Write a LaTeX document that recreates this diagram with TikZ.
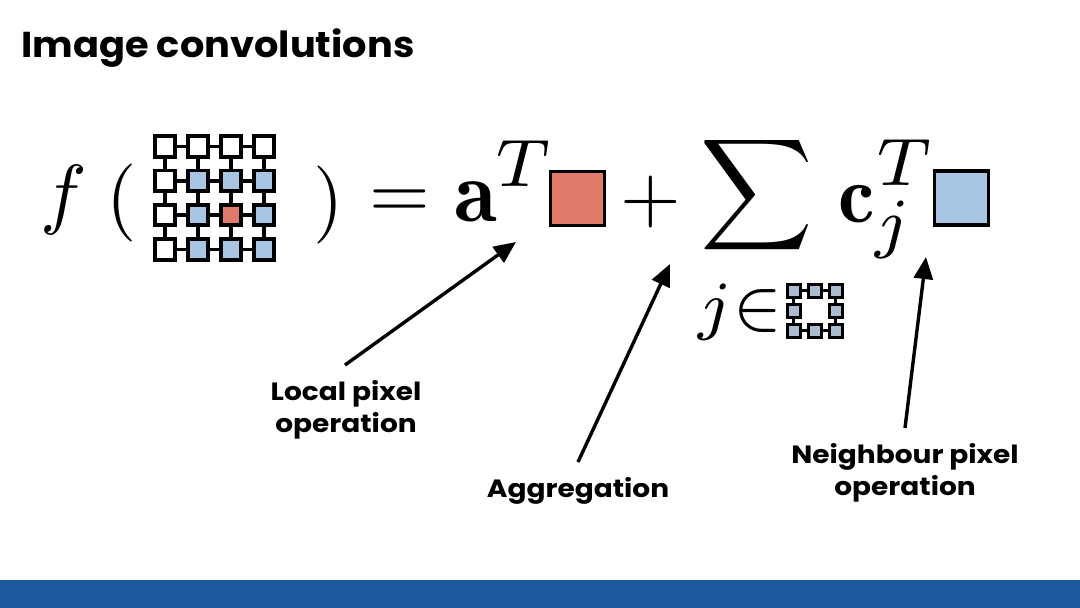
\documentclass[tikz,border=0pt]{standalone}
\usepackage{fontspec}
\usepackage{graphicx}
\usetikzlibrary{arrows.meta}
\newfontfamily\poptitle{Poppins}[FakeStretch=1.065]
\newfontfamily\poplbl{Poppins}[FakeStretch=1.12]
\definecolor{cellblue}{RGB}{168,198,228}
\definecolor{cellred}{RGB}{224,122,106}
\definecolor{smallblue}{RGB}{172,188,208}
\definecolor{barblue}{RGB}{27,90,157}
\tikzset{
  mth/.style={inner sep=0pt, outer sep=0pt, anchor=center},
  cell/.style={draw=black, line width=3.8pt, minimum width=20.5pt, minimum height=20.5pt, inner sep=0pt, outer sep=0pt},
  scell/.style={draw=black, line width=3pt, fill=smallblue, minimum width=13pt, minimum height=13pt, inner sep=0pt, outer sep=0pt},
  link/.style={line width=3.6pt},
  slink/.style={line width=3pt},
  lbl/.style={font=\poplbl\bfseries\fontsize{25}{32}\selectfont, align=center, inner sep=0pt},
  pointer/.style={line width=3.4pt, -{Triangle[length=22pt,width=19pt]}, shorten >=0pt},
  bigsq/.style={draw=black, line width=3.4pt, minimum width=53.5pt, minimum height=54pt, inner sep=0pt, outer sep=0pt}
}
\begin{document}
\begin{tikzpicture}[x=1pt,y=-1pt]
\useasboundingbox (0,0) rectangle (1080,608);
\fill[white] (0,0) rectangle (1080,608);
% title
\node[anchor=base west, inner sep=0pt, font=\poptitle\bfseries\fontsize{36}{40}\selectfont] (title) at (21,57) {Image convolutions};
% bottom bar
\fill[barblue] (0,580) rectangle (1080,608);
% f ( grid )
\node[mth] (f) at (64,200) {\scalebox{7.8}{$f$}};
\node[mth] (lp) at (122,203) {\scalebox{7.8}{$($}};
\node[mth] (rp) at (329,205) {\scalebox{7.8}{$)$}};
% big grid links
\foreach \r in {0,...,3}{
  \draw[link] (165,{146.5+34.3*\r}) -- (264,{146.5+34.3*\r});
  \draw[link] ({165+33*\r},146.5) -- ({165+33*\r},249.5);
}
\foreach \r in {0,...,3}{
  \foreach \c in {0,...,3}{
    \pgfmathsetmacro{\fc}{(\r==0 || \c==0) ? 0 : 1}
    \ifdim\fc pt=0pt
      \node[cell, fill=white] (g\r\c) at ({165+33*\c},{146.5+34.3*\r}) {};
    \else
      \node[cell, fill=cellblue] (g\r\c) at ({165+33*\c},{146.5+34.3*\r}) {};
    \fi
  }
}
\node[cell, fill=cellred] (g22r) at (g22) {};
% = a^T [red] +
\node[mth] (eq) at (400,204) {\scalebox{7.8}{$=$}};
\node[mth] (a) at (476,201.5) {\scalebox{8.8}{$\mathbf{a}$}};
\node[mth] (aT) at (523,164) {\scalebox{9.6}{$\scriptstyle T$}};
\node[bigsq, fill=cellred] (redsq) at (577.5,198.5) {};
\node[mth] (plus) at (651,201.5) {\scalebox{7.8}{$+$}};
% sum
\node[mth] (sum) at (757,195) {\scalebox{7.8}{$\displaystyle\sum$}};
\node[mth] (c) at (857,204) {\scalebox{8.2}{$\mathbf{c}$}};
\node[mth] (cT) at (904,163) {\scalebox{9.6}{$\scriptstyle T$}};
\node[mth] (cj) at (892,230) {\scalebox{9.6}{$\scriptstyle j$}};
\node[bigsq, fill=cellblue] (bluesq) at (961.5,198) {};
% j in small grid
\node[mth] (jin) at (740,312) {\scalebox{9.4}{$\scriptstyle j\in$}};
\draw[slink] (793.5,290.5) rectangle (835.5,330.5);
\foreach \r in {0,1,2}{
  \foreach \c in {0,1,2}{
    \ifnum\r=1 \ifnum\c=1 \else
      \node[scell] (s\r\c) at ({793.5+21*\c},{290.5+20*\r}) {};
    \fi\else
      \node[scell] (s\r\c) at ({793.5+21*\c},{290.5+20*\r}) {};
    \fi
  }
}
% labels
\node[lbl] (local) at (346,410) {Local pixel\\operation};
\node[lbl] (aggr) at (578,491) {Aggregation};
\node[lbl] (neigh) at (905,473) {Neighbour pixel\\operation};
% arrow endpoints
\coordinate (t1) at (345,365);
\coordinate (h1) at (516,242);
\coordinate (t2) at (578,462);
\coordinate (h2) at (670,264);
\coordinate (t3) at (905,428);
\coordinate (h3) at (926,257);
\draw[pointer] (t1) -- (h1);
\draw[pointer] (t2) -- (h2);
\draw[pointer] (t3) -- (h3);
\end{tikzpicture}
\end{document}
